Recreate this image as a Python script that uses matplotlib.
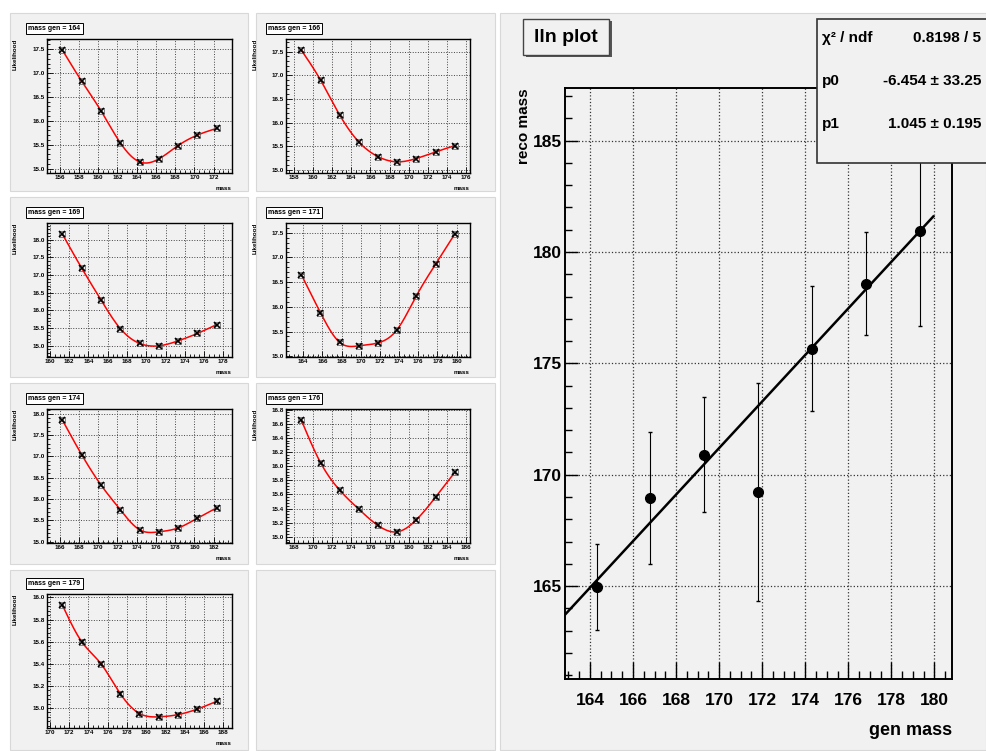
import numpy as np
import matplotlib
matplotlib.use('Agg')
import matplotlib.pyplot as plt
from matplotlib.patches import Rectangle
from matplotlib.ticker import MultipleLocator

plt.rcParams['font.family'] = ['Liberation Sans', 'DejaVu Sans']
plt.rcParams['font.weight'] = 'bold'

# данные: главный график (gen mass -> reco mass)
gen_mass = [164.34, 166.81, 169.31, 171.82, 174.32, 176.82, 179.32]
reco_mass = [164.97, 168.96, 170.90, 169.22, 175.66, 178.58, 180.92]
reco_err = [1.93, 2.96, 2.57, 4.90, 2.80, 2.30, 4.23]
p0, p1 = -6.454, 1.045
stats_rows = [('χ² / ndf', '0.8198 / 5'),
              ('p0', '-6.454 ± 33.25'),
              ('p1', '1.045 ± 0.195')]

# данные: маленькие графики правдоподобия
titles = ['mass gen = 164', 'mass gen = 166', 'mass gen = 169', 'mass gen = 171',
          'mass gen = 174', 'mass gen = 176', 'mass gen = 179']
gen_centres = [164.3, 166.8, 169.3, 171.8, 174.3, 176.8, 179.3]
likelihoods = [
    [17.48, 16.83, 16.21, 15.54, 15.14, 15.20, 15.48, 15.70, 15.84],
    [17.53, 16.90, 16.16, 15.59, 15.28, 15.17, 15.24, 15.38, 15.51],
    [18.16, 17.20, 16.30, 15.49, 15.07, 15.00, 15.14, 15.35, 15.60],
    [16.65, 15.88, 15.28, 15.21, 15.27, 15.54, 16.22, 16.86, 17.47],
    [17.85, 17.04, 16.33, 15.75, 15.28, 15.23, 15.32, 15.55, 15.79],
    [16.65, 16.05, 15.66, 15.39, 15.16, 15.07, 15.24, 15.56, 15.91],
    [15.93, 15.60, 15.40, 15.13, 14.95, 14.92, 14.94, 14.99, 15.06],
]
mass_offsets = [-8, -6, -4, -2, 0, 2, 4, 6, 8]
y_steps = [0.5, 0.5, 0.5, 0.5, 0.5, 0.2, 0.2]

W, H = 986, 751
fig = plt.figure(figsize=(W / 100, H / 100), dpi=100)
fig.patch.set_facecolor('white')
PAD = '#f1f1f1'


def px_axes(x0, y0, x1, y1):
    ax = fig.add_axes([x0 / W, 1 - y1 / H, (x1 - x0) / W, (y1 - y0) / H])
    ax.set_zorder(2)
    return ax


def pad_rect(x0, y0, x1, y1):
    fig.patches.append(Rectangle((x0 / W, 1 - y1 / H), (x1 - x0) / W, (y1 - y0) / H,
                                 transform=fig.transFigure, facecolor=PAD,
                                 edgecolor='#d8d8d8', lw=0.8, zorder=-5))


def natural_spline(x, y, n=300):
    x = np.asarray(x, float)
    y = np.asarray(y, float)
    k = len(x)
    h = np.diff(x)
    A = np.zeros((k, k))
    b = np.zeros(k)
    A[0, 0] = A[-1, -1] = 1
    for i in range(1, k - 1):
        A[i, i - 1] = h[i - 1]
        A[i, i] = 2 * (h[i - 1] + h[i])
        A[i, i + 1] = h[i]
        b[i] = 6 * ((y[i + 1] - y[i]) / h[i] - (y[i] - y[i - 1]) / h[i - 1])
    M = np.linalg.solve(A, b)
    xs = np.linspace(x[0], x[-1], n)
    idx = np.clip(np.searchsorted(x, xs) - 1, 0, k - 2)
    x0, x1, hh = x[idx], x[idx + 1], h[idx]
    ys = (M[idx] * (x1 - xs) ** 3 / (6 * hh) + M[idx + 1] * (xs - x0) ** 3 / (6 * hh)
          + (y[idx] / hh - M[idx] * hh / 6) * (x1 - xs)
          + (y[idx + 1] / hh - M[idx + 1] * hh / 6) * (xs - x0))
    return xs, ys


# фоновые панели
cols = [(10, 248), (256, 495)]
rows = [(13, 191), (197, 377), (383, 564), (570, 750)]
for r in rows:
    for c in cols:
        pad_rect(c[0], r[0], c[1], r[1])
pad_rect(500, 13, 986, 750)

# маленькие графики
frame_cols = [(47, 232), (286, 470)]
frame_tops = [39, 223, 409, 594]
for i, title in enumerate(titles):
    c = frame_cols[i % 2]
    top = frame_tops[i // 2]
    ax = px_axes(c[0], top, c[1], top + 134)
    ax.set_facecolor(PAD)
    xm = np.array(mass_offsets) + gen_centres[i]
    yl = np.array(likelihoods[i])
    xs, ys = natural_spline(xm, yl)
    ax.plot(xs, ys, color='red', lw=1.1, zorder=3)
    ax.errorbar(xm, yl, yerr=0.02, fmt='x', color='black', ms=5, mew=1.2,
                elinewidth=0.6, capsize=0, zorder=4)
    ax.plot(xm, yl, 's', mfc='none', mec='#555555', ms=4, mew=0.5, zorder=4)
    dx = xm[-1] - xm[0]
    dy = yl.max() - yl.min()
    ax.set_xlim(xm[0] - 0.1 * dx, xm[-1] + 0.1 * dx)
    ax.set_ylim(yl.min() - 0.1 * dy, yl.max() + 0.1 * dy)
    ax.xaxis.set_major_locator(MultipleLocator(2))
    ax.xaxis.set_minor_locator(MultipleLocator(0.5))
    ax.yaxis.set_major_locator(MultipleLocator(y_steps[i]))
    ax.yaxis.set_minor_locator(MultipleLocator(y_steps[i] / 5))
    ax.grid(True, which='major', ls=':', color='#444444', lw=0.7)
    ax.tick_params(which='both', direction='in', labelsize=4.5, pad=1.5, width=0.6)
    ax.tick_params(which='major', length=4)
    ax.tick_params(which='minor', length=2)
    ax.yaxis.set_major_formatter(matplotlib.ticker.FormatStrFormatter('%.1f'))
    for s in ax.spines.values():
        s.set_linewidth(1.0)
    ax.text(1.0, -0.1, 'mass', transform=ax.transAxes, ha='right', va='top', fontsize=4.5)
    ax.text(-0.17, 1.0, 'Likelihood', transform=ax.transAxes, ha='center', va='top',
            rotation=90, fontsize=4.5)
    ax.text(-0.1, 1.08, title, transform=ax.transAxes, ha='left', va='center',
            fontsize=5,
            bbox=dict(boxstyle='square,pad=0.3', facecolor='white', edgecolor='black', lw=0.7))

# главный график
ax = px_axes(565, 88, 952, 679)
ax.set_facecolor(PAD)
dx = gen_mass[-1] - gen_mass[0]
lo = min(np.array(reco_mass) - np.array(reco_err))
hi = max(np.array(reco_mass) + np.array(reco_err))
ax.set_xlim(gen_mass[0] - 0.1 * dx, gen_mass[-1] + 0.1 * dx)
ax.set_ylim(lo - 0.1 * (hi - lo), hi + 0.1 * (hi - lo))
xf = np.array([gen_mass[0] - 0.1 * dx, 179.95])
ax.plot(xf, p0 + p1 * xf, color='black', lw=1.8, zorder=3)
ax.errorbar(gen_mass, reco_mass, yerr=reco_err, fmt='o', color='black', ms=7,
            elinewidth=0.8, capsize=1.5, zorder=4)
ax.xaxis.set_major_locator(MultipleLocator(2))
ax.xaxis.set_minor_locator(MultipleLocator(0.5))
ax.yaxis.set_major_locator(MultipleLocator(5))
ax.yaxis.set_minor_locator(MultipleLocator(1))
ax.grid(True, which='major', ls=':', color='#333333', lw=0.9)
ax.tick_params(which='both', direction='in', labelsize=12.5, width=1.0)
ax.tick_params(axis='x', which='major', length=12, pad=10)
ax.tick_params(axis='x', which='minor', length=6)
ax.tick_params(axis='y', which='major', length=9, pad=2)
ax.tick_params(axis='y', which='minor', length=5)
for s in ax.spines.values():
    s.set_linewidth(1.4)
ax.set_xlabel('gen mass', fontsize=13, fontweight='bold', loc='right', labelpad=10)
ax.set_ylabel('reco mass', fontsize=11, fontweight='bold', ha='right')
ax.yaxis.set_label_coords(-0.088, 1.0)

# заголовок "lln plot" с тенью
fig.patches.append(Rectangle((526 / W, 1 - 57 / H), 86 / W, 36 / H, transform=fig.transFigure,
                             facecolor='#555555', edgecolor='none', zorder=5))
fig.patches.append(Rectangle((523 / W, 1 - 55 / H), 86 / W, 36 / H, transform=fig.transFigure,
                             facecolor=PAD, edgecolor='#444444', lw=1.0, zorder=6))
fig.text(566 / W, 1 - 38 / H, 'lln plot', ha='center', va='center', fontsize=14,
         fontweight='bold', zorder=7)

# панель статистики
fig.patches.append(Rectangle((817 / W, 1 - 163 / H), 175 / W, 144 / H, transform=fig.transFigure,
                             facecolor=PAD, edgecolor='#333333', lw=1.2, zorder=5))
for j, (name, val) in enumerate(stats_rows):
    yy = 1 - (38 + j * 43) / H
    fig.text(822 / W, yy, name, ha='left', va='center', fontsize=11, fontweight='bold', zorder=7)
    fig.text(981 / W, yy, val, ha='right', va='center', fontsize=11, fontweight='bold', zorder=7)

fig.savefig('out.png', dpi=100, facecolor=fig.get_facecolor())
